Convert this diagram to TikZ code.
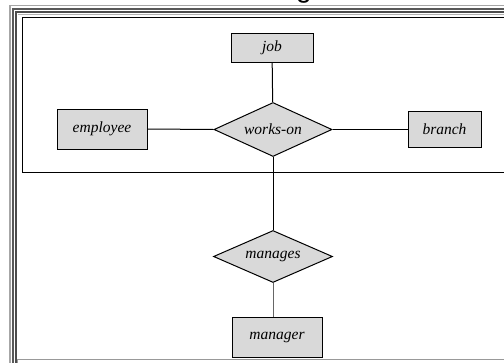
\documentclass[tikz,border=0pt]{standalone}
\usepackage{fontspec}
\newfontfamily\titlefont{Liberation Sans}
\newfontfamily\labelfont{Liberation Serif}
\usetikzlibrary{shapes.geometric}
\definecolor{boxfill}{gray}{0.85}
\tikzset{
  x=1pt, y=-1pt,
  labeltext/.style={font=\labelfont\itshape\fontsize{15.5}{17}\selectfont},
  entity/.style={draw=black, fill=boxfill, line width=1pt, minimum width=84pt, minimum height=34pt,
    inner sep=0pt, labeltext},
  relation/.style={diamond, draw=black, fill=boxfill, line width=1pt, aspect=2.2,
    minimum width=118pt, minimum height=54pt, inner sep=0pt, labeltext},
  link/.style={line width=1pt, draw=black},
  frameline/.style={line cap=butt},
}
\begin{document}
\begin{tikzpicture}
\useasboundingbox (0,0) rectangle (504,362);
\clip (0,0) rectangle (504,362);
\fill[white] (0,0) rectangle (504,362);
% slide title, mostly above the visible area
\node[anchor=base, font=\titlefont\fontsize{28}{30}\selectfont, inner sep=0pt] (title) at (304,-3) {g};
% framed border
\draw[frameline, gray!70, line width=1.2] (10,370) -- (10,5.5) -- (520,5.5);
\draw[frameline, black!65, line width=2] (12.5,370) -- (12.5,8.5) -- (520,8.5);
\draw[frameline, black!70, line width=2] (15.5,370) -- (15.5,11.5) -- (520,11.5);
\draw[frameline, gray!80, line width=1.2] (17.5,370) -- (17.5,359.8) -- (520,359.8);
\draw[frameline, gray!60, line width=0.8] (17.5,14) -- (520,14);
% aggregation box
\draw[line width=1pt] (520,17.7) -- (22,17.7) -- (22,172.7) -- (520,172.7);
% entities and relationships
\node[entity, minimum width=82pt, minimum height=29pt] (job) at (272,47.5) {job};
\node[entity, minimum width=90pt, minimum height=40pt] (employee) at (102,129) {employee};
\node[entity, minimum width=73pt, minimum height=36pt] (branch) at (444.5,129.5) {branch};
\node[relation] (workson) at (273,129.5) {works-on};
\node[relation, minimum width=119pt, minimum height=52pt] (manages) at (273,256.5) {manages};
\node[entity, minimum width=90pt, minimum height=40pt] (manager) at (277,337) {manager};
% connectors
\draw[link] (job) -- (workson);
\draw[link] (employee.east) -- (workson.west);
\draw[link] (workson.east) -- (branch.west);
\draw[link] (workson) -- (manages);
\draw[line width=0.9pt, draw=black!60] (manages.south) -- (manages.south |- manager.north);
\end{tikzpicture}
\end{document}
